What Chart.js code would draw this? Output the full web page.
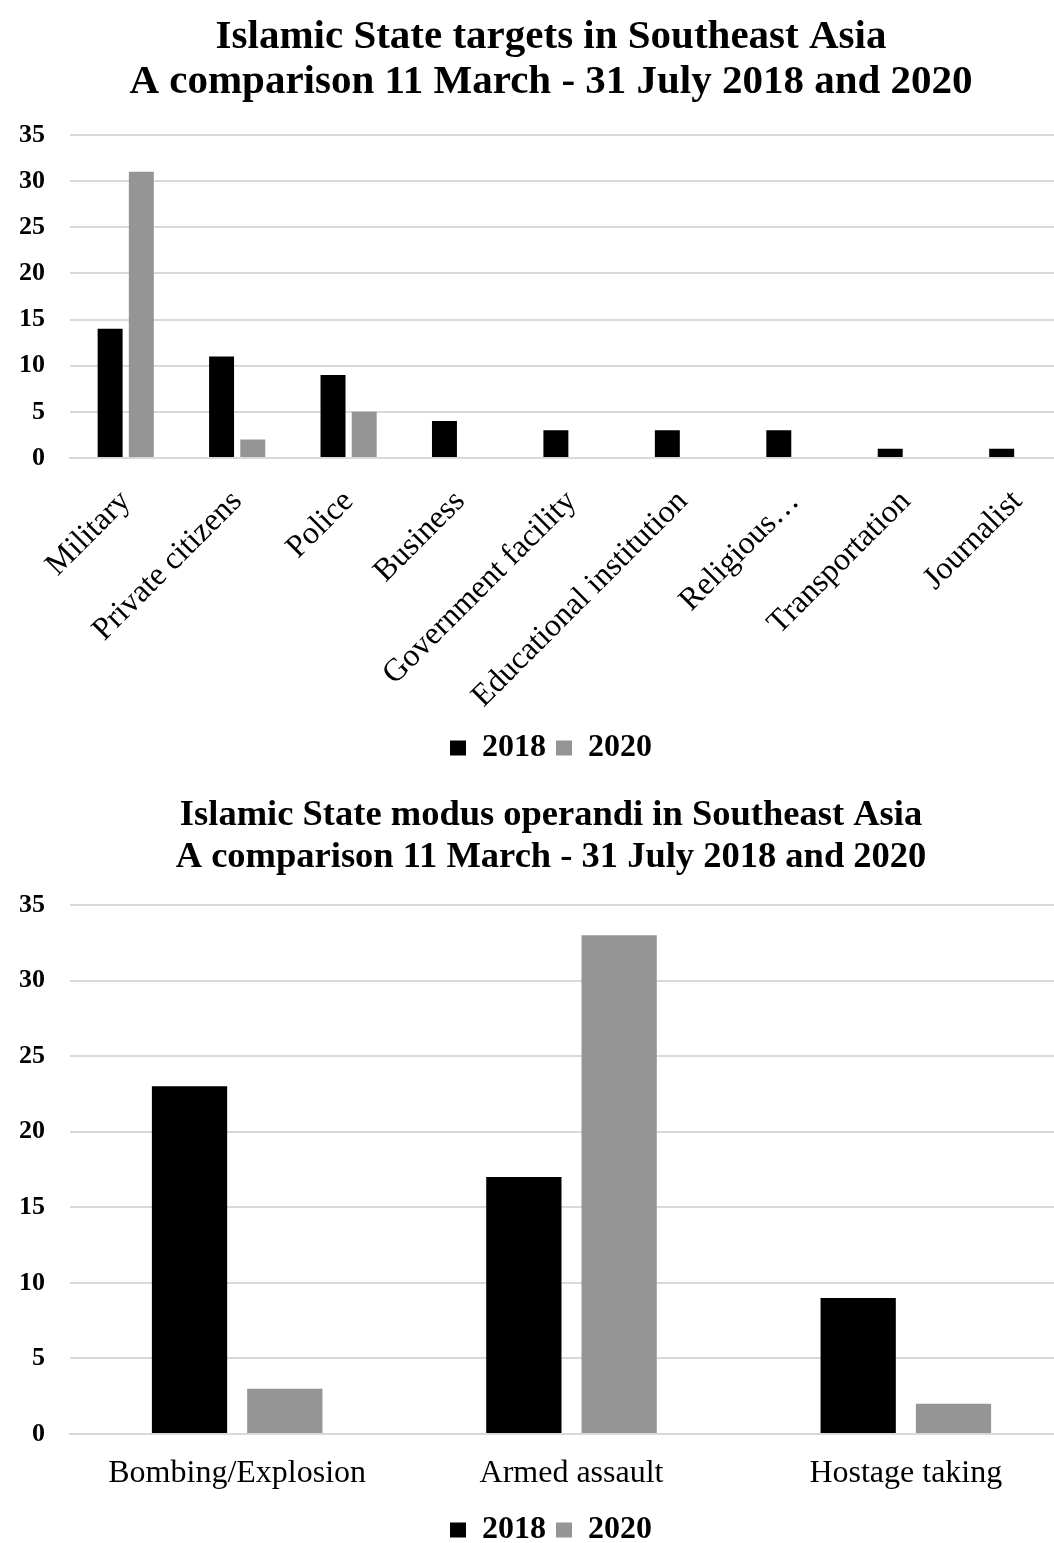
<!DOCTYPE html>
<html>
<head>
<meta charset="utf-8">
<script src="https://cdn.jsdelivr.net/npm/chart.js@4.4.1/dist/chart.umd.min.js"></script>
<style>
html,body{margin:0;padding:0;background:#fff;overflow:hidden;width:1054px;height:1543px;}
#c1wrap{position:absolute;left:0;top:0;width:1102px;height:775px;}
#c2wrap{position:absolute;left:0;top:775px;width:1102px;height:781px;}
</style>
</head>
<body>
<div id="c1wrap"><canvas id="c1"></canvas></div>
<div id="c2wrap"><canvas id="c2"></canvas></div>
<script>
const targetCategories = ["Military","Private citizens","Police","Business","Government facility","Educational institution","Religious…","Transportation","Journalist"];
const targets2018 = [14,11,9,4,3,3,3,1,1];
const targets2020 = [31,2,5,0,0,0,0,0,0];

const modusCategories = ["Bombing/Explosion","Armed assault","Hostage taking"];
const modus2018 = [23,17,9];
const modus2020 = [3,33,2];

const seriesLabels = ["2018","2020"];
const yTicks = [0,5,10,15,20,25,30,35];

const FONT = "'Liberation Serif', 'Times New Roman', serif";
const BLACK = "#000000";
const GRAY = "#959595";

function makeChart(id, cats, d1, d2, title, opts) {
  return new Chart(document.getElementById(id), {
    type: 'bar',
    data: {
      labels: cats,
      datasets: [
        {label: seriesLabels[0], data: d1, backgroundColor: BLACK, categoryPercentage: opts.catPct, barPercentage: opts.barPct},
        {label: seriesLabels[1], data: d2, backgroundColor: GRAY, categoryPercentage: opts.catPct, barPercentage: opts.barPct}
      ]
    },
    options: {
      responsive: true,
      maintainAspectRatio: false,
      animation: false,
      layout: {padding: opts.padding},
      plugins: {
        title: {
          display: true,
          text: title,
          color: '#000',
          font: {family: FONT, size: opts.titleSize, weight: 'bold', lineHeight: opts.titleLH},
          padding: opts.titlePad
        },
        legend: {
          display: true,
          position: 'bottom',
          labels: {
            color: '#000',
            font: {family: FONT, size: 32, weight: 'bold'},
            boxWidth: 16, boxHeight: 15,
            padding: 10
          }
        },
        tooltip: {enabled: false}
      },
      scales: {
        x: {
          grid: {display: false, drawTicks: false},
          border: {display: true, color: '#d9d9d9', width: 2},
          ticks: {
            color: '#000',
            font: {family: FONT, size: opts.xSize},
            minRotation: opts.rot, maxRotation: opts.rot,
            autoSkip: false,
            padding: opts.xPad
          },
          afterFit: (ax) => { ax.height = opts.xHeight; }
        },
        y: {
          min: 0, max: 35,
          afterBuildTicks: (ax) => { ax.ticks = yTicks.map(v => ({value: v})); },
          grid: {color: '#d9d9d9', lineWidth: 2, drawTicks: false},
          border: {display: false},
          ticks: {
            color: '#000',
            font: {family: FONT, size: 26, weight: 'bold'},
            padding: 25
          },
          afterFit: (ax) => { ax.width = 70; }
        },
        yRight: {
          position: 'right',
          display: true,
          grid: {display: false, drawTicks: false},
          border: {display: false},
          ticks: {display: false},
          afterFit: (ax) => { ax.width = 29; }
        }
      }
    }
  });
}

makeChart('c1', targetCategories, targets2018, targets2020,
  ["Islamic State targets in Southeast Asia","A comparison 11 March - 31 July 2018 and 2020"],
  {titleSize: 41, titleLH: 1.12, catPct: 0.56, barPct: 0.8,
   padding: {left: 0, right: 0, top: 14, bottom: 1}, titlePad: {top: 0, bottom: 29},
   xSize: 32, rot: 45, xPad: 25, xHeight: 264});

makeChart('c2', modusCategories, modus2018, modus2020,
  ["Islamic State modus operandi in Southeast Asia","A comparison 11 March - 31 July 2018 and 2020"],
  {titleSize: 36.5, titleLH: 1.15, catPct: 0.57, barPct: 0.79,
   padding: {left: 0, right: 0, top: 20, bottom: 0}, titlePad: {top: 0, bottom: 26},
   xSize: 32, rot: 0, xPad: 20, xHeight: 70});
</script>
</body>
</html>
